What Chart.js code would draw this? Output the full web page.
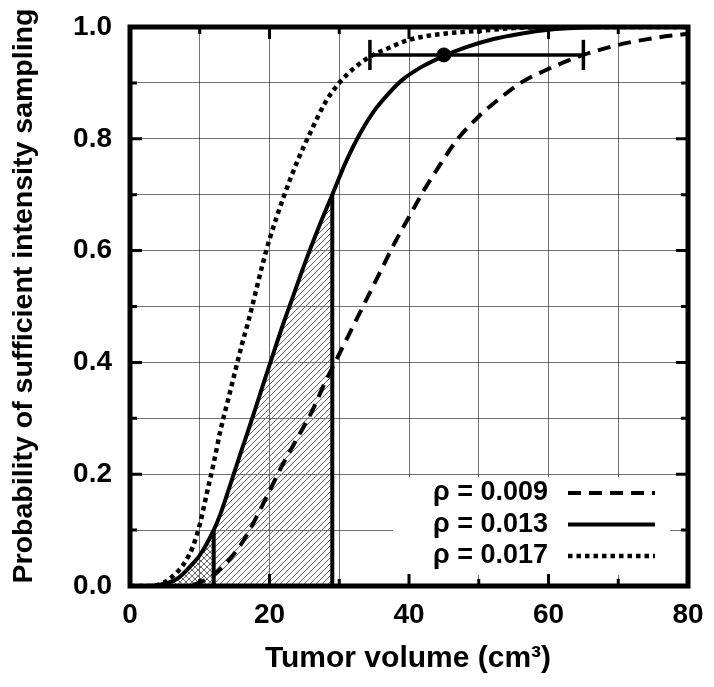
<!DOCTYPE html>
<html>
<head>
<meta charset="utf-8">
<script src="https://cdn.jsdelivr.net/npm/chart.js@4"></script>
<style>
  html, body { margin: 0; padding: 0; background: #fff; }
  #wrap { width: 714px; height: 687px; position: relative; }
</style>
</head>
<body>
<div id="wrap"><canvas id="grafico"></canvas></div>
<script>
// curvas (volumen en cm3, probabilidad)
const xDashed = [0, 8, 10, 12, 14, 16, 18, 20, 22, 24, 26, 28, 30, 32, 34, 36, 38, 40, 42, 44, 47, 50, 53, 56, 60, 65, 70, 75, 80];
const yDashed = [0, 0, 0.006, 0.02, 0.044, 0.076, 0.12, 0.17, 0.22, 0.265, 0.31, 0.365, 0.415, 0.465, 0.515, 0.565, 0.615, 0.66, 0.705, 0.745, 0.80, 0.84, 0.872, 0.90, 0.925, 0.95, 0.968, 0.98, 0.988];

const xSolid = [0, 3, 5, 7, 9, 10, 12, 13, 15, 16, 17, 18, 19, 20, 22, 23, 25, 27, 29, 31, 33, 35, 37, 39, 42, 45, 48, 52, 56, 60, 65, 70, 80];
const ySolid = [0, 0, 0.004, 0.015, 0.04, 0.055, 0.10, 0.13, 0.205, 0.243, 0.28, 0.318, 0.357, 0.395, 0.47, 0.505, 0.575, 0.64, 0.70, 0.76, 0.81, 0.85, 0.88, 0.905, 0.93, 0.948, 0.963, 0.978, 0.988, 0.995, 0.999, 1.0, 1.0];

const xDotted = [0, 3, 4, 5, 6, 7, 8, 9, 10, 11, 12, 13, 14, 15, 16, 17, 18, 19, 20, 22, 24, 26, 28, 30, 32, 34.4, 37, 40, 45, 50, 55, 60, 80];
const yDotted = [0, 0, 0.002, 0.007, 0.016, 0.028, 0.045, 0.07, 0.11, 0.165, 0.22, 0.28, 0.33, 0.38, 0.43, 0.475, 0.525, 0.575, 0.62, 0.695, 0.76, 0.815, 0.865, 0.90, 0.925, 0.947, 0.962, 0.977, 0.988, 0.993, 0.998, 1.0, 1.0];

const rhoLabels = ['ρ = 0.009', 'ρ = 0.013', 'ρ = 0.017'];

// zona sombreada bajo la curva solida
const shadeX = [12, 29];
const shadeTop = [0.10, 0.70];

// barra de error
const errX = [34.4, 45, 65];
const errY = 0.95;
const capHalf = 0.027;

const xTickLabels = [0, 20, 40, 60, 80];
const yTickLabels = ['0.0', '0.2', '0.4', '0.6', '0.8', '1.0'];

const FONT = '"Liberation Sans", Arial, sans-serif';

function pts(xs, ys) {
  return xs.map((x, i) => ({ x: x, y: ys[i] }));
}

function hatch(dirs) {
  const c = document.createElement('canvas');
  c.width = 6; c.height = 6;
  const g = c.getContext('2d');
  g.strokeStyle = '#666';
  g.lineWidth = 1;
  g.beginPath();
  if (dirs.indexOf('/') >= 0) {
    g.moveTo(0, 6); g.lineTo(6, 0);
    g.moveTo(-1, 1); g.lineTo(1, -1);
    g.moveTo(5, 7); g.lineTo(7, 5);
  }
  if (dirs.indexOf('\\') >= 0) {
    g.moveTo(0, 0); g.lineTo(6, 6);
    g.moveTo(5, -1); g.lineTo(7, 1);
    g.moveTo(-1, 5); g.lineTo(1, 7);
  }
  g.stroke();
  return g.createPattern(c, 'repeat');
}

const solidPts = pts(xSolid, ySolid);

function linea(data, width) {
  return {
    data: data, borderColor: '#000', borderWidth: width, pointRadius: 0,
    fill: false, showLine: true, order: 2
  };
}

// caja blanca de la leyenda y textos
const legendBox = { left: 393, right: 670, top: 477, bottom: 575, textRight: 548, lineLeft: 568, lineRight: 655, firstBase: 500, rowStep: 31.5 };

const marcoPlugin = {
  id: 'marco',
  beforeDatasetsDraw(chart) {
    const ctx = chart.ctx;
    ctx.save();
    ctx.fillStyle = '#fff';
    ctx.fillRect(legendBox.left, legendBox.top, legendBox.right - legendBox.left, legendBox.bottom - legendBox.top);
    ctx.restore();
  },
  afterDatasetsDraw(chart) {
    const ctx = chart.ctx;
    const a = chart.chartArea;
    const sx = chart.scales.x, sy = chart.scales.y;
    ctx.save();
    ctx.strokeStyle = '#000';
    ctx.lineWidth = 3;
    ctx.beginPath();
    sx.ticks.forEach(t => {
      const px = sx.getPixelForValue(t.value);
      const len = Math.round(t.value) % 20 === 0 ? 12 : 7;
      ctx.moveTo(px, a.bottom); ctx.lineTo(px, a.bottom - len);
      ctx.moveTo(px, a.top); ctx.lineTo(px, a.top + len);
    });
    sy.ticks.forEach(t => {
      const py = sy.getPixelForValue(t.value);
      const len = Math.round(t.value * 10) % 2 === 0 ? 12 : 7;
      ctx.moveTo(a.left, py); ctx.lineTo(a.left + len, py);
      ctx.moveTo(a.right, py); ctx.lineTo(a.right - len, py);
    });
    ctx.stroke();
    ctx.lineWidth = 5;
    ctx.strokeRect(a.left, a.top, a.right - a.left, a.bottom - a.top);

    // leyenda
    ctx.fillStyle = '#000';
    ctx.font = 'bold 27px ' + FONT;
    ctx.textAlign = 'right';
    ctx.textBaseline = 'alphabetic';
    for (let i = 0; i < 3; i++) {
      const ds = chart.data.datasets[i];
      const base = legendBox.firstBase + i * legendBox.rowStep;
      ctx.fillText(ds.label, legendBox.textRight, base);
      ctx.beginPath();
      ctx.lineWidth = ds.borderWidth;
      ctx.setLineDash(ds.borderDash || []);
      ctx.moveTo(legendBox.lineLeft, base - 7);
      ctx.lineTo(legendBox.lineRight, base - 7);
      ctx.stroke();
    }
    ctx.setLineDash([]);

    // titulos de ejes
    ctx.textAlign = 'center';
    ctx.font = 'bold 30px ' + FONT;
    ctx.fillText('Tumor volume (cm³)', 408, 667);
    ctx.save();
    ctx.translate(32, 296);
    ctx.rotate(-Math.PI / 2);
    ctx.font = 'bold 28.5px ' + FONT;
    ctx.fillText('Probability of sufficient intensity sampling', 0, 0);
    ctx.restore();
    ctx.restore();
  }
};

const ctx = document.getElementById('grafico').getContext('2d');
const grafico = new Chart(ctx, {
  type: 'scatter',
  data: {
    datasets: [
      { label: rhoLabels[0], data: pts(xDashed, yDashed), borderColor: '#000', borderWidth: 4, borderDash: [13, 8],
        pointRadius: 0, showLine: true, fill: false, cubicInterpolationMode: 'monotone', order: 1 },
      { label: rhoLabels[1], data: solidPts, borderColor: '#000', borderWidth: 4,
        pointRadius: 0, showLine: true, fill: false, cubicInterpolationMode: 'monotone', order: 1 },
      { label: rhoLabels[2], data: pts(xDotted, yDotted), borderColor: '#000', borderWidth: 4.5, borderDash: [4.5, 4],
        pointRadius: 0, showLine: true, fill: false, cubicInterpolationMode: 'monotone', order: 1 },
      // sombreado
      { data: solidPts.filter(p => p.x <= shadeX[1]), borderWidth: 0, pointRadius: 0, showLine: true,
        cubicInterpolationMode: 'monotone', fill: 'origin', backgroundColor: hatch('/'), order: 10 },
      { data: solidPts.filter(p => p.x <= shadeX[0]), borderWidth: 0, pointRadius: 0, showLine: true,
        cubicInterpolationMode: 'monotone', fill: 'origin', backgroundColor: hatch('\\'), order: 10 },
      linea([{ x: shadeX[0], y: 0 }, { x: shadeX[0], y: shadeTop[0] }], 4),
      linea([{ x: shadeX[1], y: 0 }, { x: shadeX[1], y: shadeTop[1] }], 4),
      // barra de error
      linea([{ x: errX[0], y: errY }, { x: errX[2], y: errY }], 3.5),
      linea([{ x: errX[0], y: errY - capHalf }, { x: errX[0], y: errY + capHalf }], 3.5),
      linea([{ x: errX[2], y: errY - capHalf }, { x: errX[2], y: errY + capHalf }], 3.5),
      { data: [{ x: errX[1], y: errY }], pointRadius: 7, pointBackgroundColor: '#000', pointBorderColor: '#000', showLine: false, order: 0 }
    ]
  },
  options: {
    responsive: true,
    maintainAspectRatio: false,
    animation: false,
    events: [],
    layout: { padding: { top: 27, right: 26, left: 0, bottom: 0 } },
    plugins: { legend: { display: false }, tooltip: { enabled: false } },
    scales: {
      x: {
        type: 'linear', min: 0, max: 80,
        afterFit(scale) { scale.height = 101; scale.paddingLeft = 0; scale.paddingRight = 0; },
        border: { display: false },
        grid: { color: 'rgba(0,0,0,0.55)', lineWidth: 1, drawTicks: false, tickLength: 0 },
        ticks: {
          stepSize: 10, padding: 12, color: '#000', maxRotation: 0, autoSkip: false,
          font: { family: FONT, size: 28, weight: 'bold' },
          callback: v => xTickLabels.includes(v) ? String(v) : ''
        }
      },
      y: {
        type: 'linear', min: 0, max: 1,
        afterFit(scale) { scale.width = 130; scale.paddingTop = 0; scale.paddingBottom = 0; },
        border: { display: false },
        grid: { color: 'rgba(0,0,0,0.55)', lineWidth: 1, drawTicks: false, tickLength: 0 },
        ticks: {
          stepSize: 0.1, padding: 18, color: '#000', autoSkip: false,
          font: { family: FONT, size: 28, weight: 'bold' },
          callback: v => {
            const s = v.toFixed(1);
            return yTickLabels.includes(s) ? s : '';
          }
        }
      }
    }
  },
  plugins: [marcoPlugin]
});
</script>
</body>
</html>
